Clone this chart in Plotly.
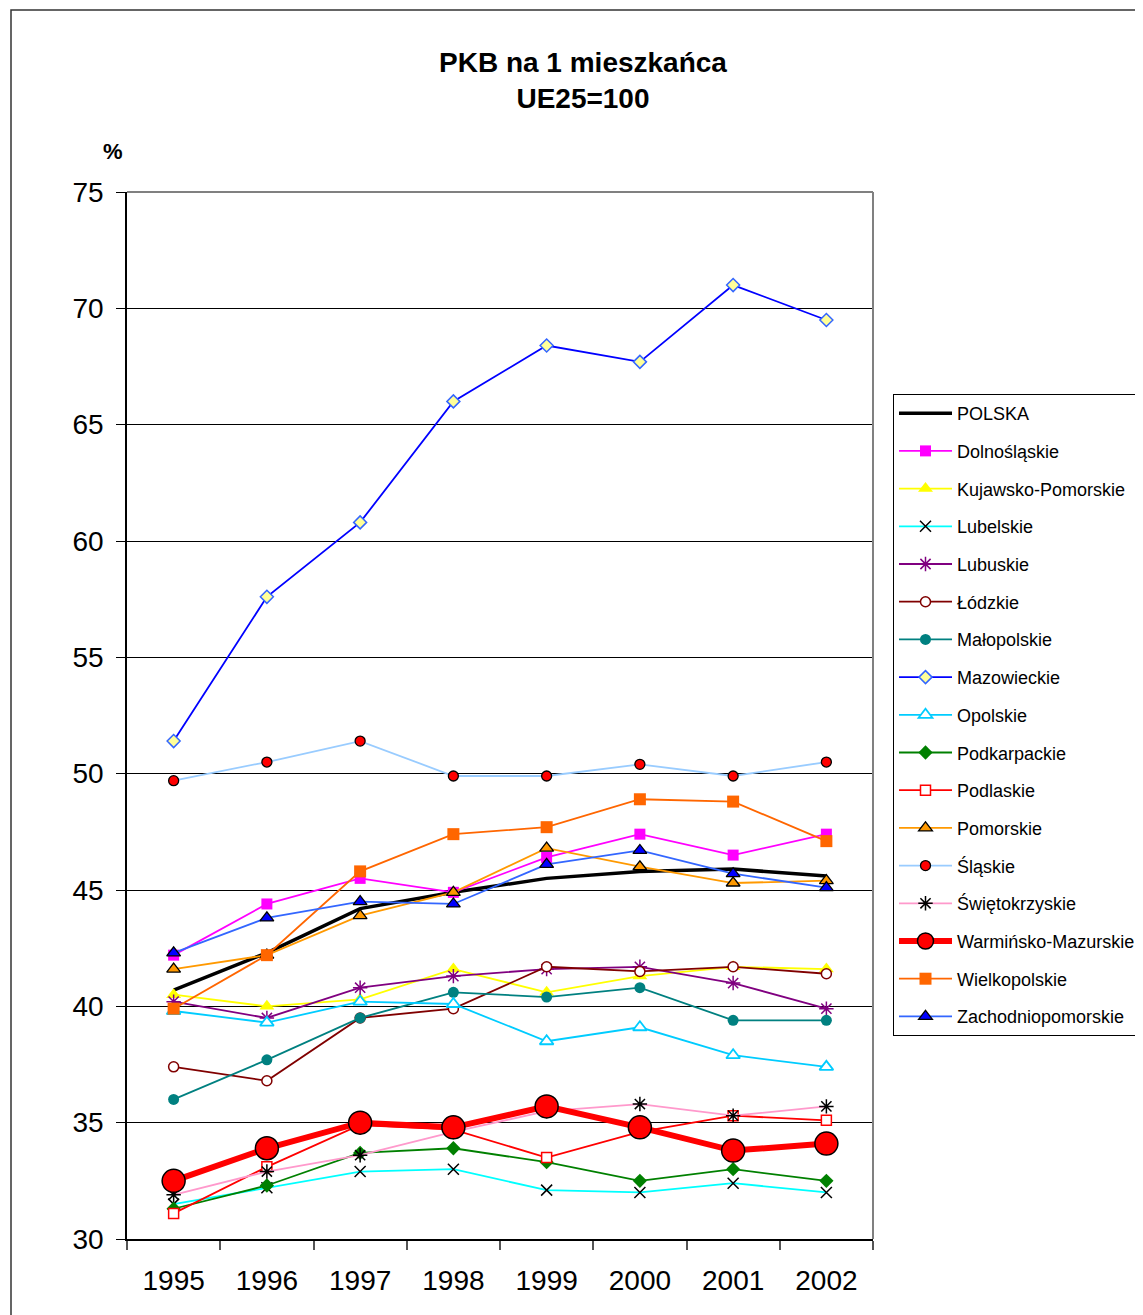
import plotly.graph_objects as go

years = ["1995", "1996", "1997", "1998", "1999", "2000", "2001", "2002"]

polska = [40.7, 42.3, 44.2, 44.9, 45.5, 45.8, 45.9, 45.6]
dolnoslaskie = [42.2, 44.4, 45.5, 44.9, 46.4, 47.4, 46.5, 47.4]
kujawsko_pomorskie = [40.5, 40.0, 40.3, 41.6, 40.6, 41.3, 41.7, 41.6]
lubelskie = [31.5, 32.2, 32.9, 33.0, 32.1, 32.0, 32.4, 32.0]
lubuskie = [40.2, 39.5, 40.8, 41.3, 41.6, 41.7, 41.0, 39.9]
lodzkie = [37.4, 36.8, 39.5, 39.9, 41.7, 41.5, 41.7, 41.4]
malopolskie = [36.0, 37.7, 39.5, 40.6, 40.4, 40.8, 39.4, 39.4]
mazowieckie = [51.4, 57.6, 60.8, 66.0, 68.4, 67.7, 71.0, 69.5]
opolskie = [39.8, 39.3, 40.2, 40.1, 38.5, 39.1, 37.9, 37.4]
podkarpackie = [31.3, 32.3, 33.7, 33.9, 33.3, 32.5, 33.0, 32.5]
podlaskie = [31.1, 33.1, 34.9, 34.7, 33.5, 34.6, 35.3, 35.1]
pomorskie = [41.6, 42.2, 43.9, 44.9, 46.8, 46.0, 45.3, 45.4]
slaskie = [49.7, 50.5, 51.4, 49.9, 49.9, 50.4, 49.9, 50.5]
swietokrzyskie = [31.9, 32.9, 33.6, 34.6, 35.5, 35.8, 35.3, 35.7]
warminsko_mazurskie = [32.5, 33.9, 35.0, 34.8, 35.7, 34.8, 33.8, 34.1]
wielkopolskie = [39.9, 42.2, 45.8, 47.4, 47.7, 48.9, 48.8, 47.1]
zachodniopomorskie = [42.3, 43.8, 44.5, 44.4, 46.1, 46.7, 45.7, 45.1]

y_ticks = [30, 35, 40, 45, 50, 55, 60, 65, 70, 75]

FONT = "Liberation Sans, Arial, sans-serif"

series = [
    ("POLSKA", polska, dict(color="black", width=3.5), None),
    ("Dolnośląskie", dolnoslaskie, dict(color="#FF00FF", width=1.8),
     dict(symbol="square", size=11, color="#FF00FF", line=dict(width=0))),
    ("Kujawsko-Pomorskie", kujawsko_pomorskie, dict(color="#FFFF00", width=1.8),
     dict(symbol="triangle-up", size=13, color="#FFFF00", line=dict(width=0))),
    ("Lubelskie", lubelskie, dict(color="#00FFFF", width=1.8),
     dict(symbol="x-thin-open", size=11, color="black", line=dict(color="black", width=1.5))),
    ("Lubuskie", lubuskie, dict(color="#800080", width=1.8),
     dict(symbol="asterisk-open", size=12, color="#800080", line=dict(color="#800080", width=1.5))),
    ("Łódzkie", lodzkie, dict(color="#800000", width=1.8),
     dict(symbol="circle", size=10, color="white", line=dict(color="#800000", width=1.5))),
    ("Małopolskie", malopolskie, dict(color="#008080", width=1.8),
     dict(symbol="circle", size=11, color="#008080", line=dict(width=0))),
    ("Mazowieckie", mazowieckie, dict(color="#0000FF", width=1.8),
     dict(symbol="diamond", size=10, color="#FFFF99", line=dict(color="#3366FF", width=1.5))),
    ("Opolskie", opolskie, dict(color="#00CCFF", width=1.8),
     dict(symbol="triangle-up", size=12, color="white", line=dict(color="#00CCFF", width=1.8))),
    ("Podkarpackie", podkarpackie, dict(color="#008000", width=1.8),
     dict(symbol="diamond", size=11, color="#008000", line=dict(width=0))),
    ("Podlaskie", podlaskie, dict(color="#FF0000", width=1.8),
     dict(symbol="square", size=10, color="white", line=dict(color="#FF0000", width=1.5))),
    ("Pomorskie", pomorskie, dict(color="#FF9900", width=1.8),
     dict(symbol="triangle-up", size=12, color="#FF9900", line=dict(color="black", width=1.3))),
    ("Śląskie", slaskie, dict(color="#99CCFF", width=1.8),
     dict(symbol="circle", size=10, color="#FF0000", line=dict(color="black", width=1.3))),
    ("Świętokrzyskie", swietokrzyskie, dict(color="#FF99CC", width=1.8),
     dict(symbol="asterisk-open", size=12, color="black", line=dict(color="black", width=1.5))),
    ("Warmińsko-Mazurskie", warminsko_mazurskie, dict(color="#FF0000", width=6),
     dict(symbol="circle", size=23, color="#FF0000", line=dict(color="black", width=1.5))),
    ("Wielkopolskie", wielkopolskie, dict(color="#FF6600", width=1.8),
     dict(symbol="square", size=12, color="#FF6600", line=dict(width=0))),
    ("Zachodniopomorskie", zachodniopomorskie, dict(color="#3366FF", width=1.8),
     dict(symbol="triangle-up", size=12, color="#0000FF", line=dict(color="black", width=1.3))),
]

fig = go.Figure()
for i, (name, vals, line, marker) in enumerate(series):
    kw = dict(x=years, y=vals, name=name, line=line, legendgroup=f"g{i}")
    if marker is None:
        kw["mode"] = "lines"
    else:
        kw["mode"] = "lines+markers"
        kw["marker"] = marker
    fig.add_trace(go.Scatter(**kw))

# page offset (body margin) is 8px
OFF = 8
W, H = 1143 - OFF, 1315 - OFF
L, T = 127 - OFF, 192 - OFF
pw, ph = 746, 1047
R = W - L - pw
B = H - T - ph

def px_x(p):
    return (p - OFF - L) / pw

def px_y(p):
    return (T + ph - (p - OFF)) / ph

fig.update_layout(
    width=W, height=H,
    margin=dict(l=L, r=R, t=T, b=B, autoexpand=False),
    paper_bgcolor="white", plot_bgcolor="white",
    font=dict(family=FONT, color="black"),
    showlegend=True,
    legend=dict(
        x=px_x(893), y=px_y(394), xanchor="left", yanchor="top",
        bordercolor="black", borderwidth=1, bgcolor="white",
        font=dict(size=18, family=FONT, color="black"),
        tracegroupgap=11.3, itemwidth=53,
    ),
    xaxis=dict(
        type="category", range=[-0.5, 7.5],
        tickson="boundaries", ticks="outside", ticklen=9, tickcolor="#555555", tickwidth=1.5,
        showline=True, linecolor="black", linewidth=1.5,
        showgrid=False, zeroline=False,
        tickfont=dict(size=28, family=FONT, color="black"),
        ticklabelstandoff=16,
    ),
    yaxis=dict(
        range=[30, 75], tickvals=y_ticks, ticktext=[str(v) for v in y_ticks],
        ticks="outside", ticklen=9, tickcolor="black", tickwidth=1,
        showline=True, linecolor="black", linewidth=1.5,
        showgrid=True, gridcolor="black", gridwidth=1, zeroline=False,
        tickfont=dict(size=28, family=FONT, color="black"),
        ticklabelstandoff=7,
    ),
    shapes=[
        dict(type="line", xref="paper", yref="paper", x0=0, x1=1, y0=1, y1=1,
             line=dict(color="#808080", width=2)),
        dict(type="line", xref="paper", yref="paper", x0=1, x1=1, y0=0, y1=1,
             line=dict(color="#808080", width=2)),
        dict(type="rect", xref="paper", yref="paper",
             x0=px_x(11), x1=px_x(1200), y0=px_y(1400), y1=px_y(10),
             line=dict(color="#333333", width=1.5), layer="below"),
    ],
    annotations=[
        dict(text="<b>PKB na 1 mieszkańca<br>UE25=100</b>", xref="paper", yref="paper",
             x=px_x(583), y=px_y(81), xanchor="center", yanchor="middle",
             showarrow=False, font=dict(size=28, family=FONT, color="black")),
        dict(text="<b>%</b>", xref="paper", yref="paper",
             x=px_x(113), y=px_y(152), xanchor="center", yanchor="middle",
             showarrow=False, font=dict(size=22, family=FONT, color="black")),
    ],
)

fig.write_html("out.html")
